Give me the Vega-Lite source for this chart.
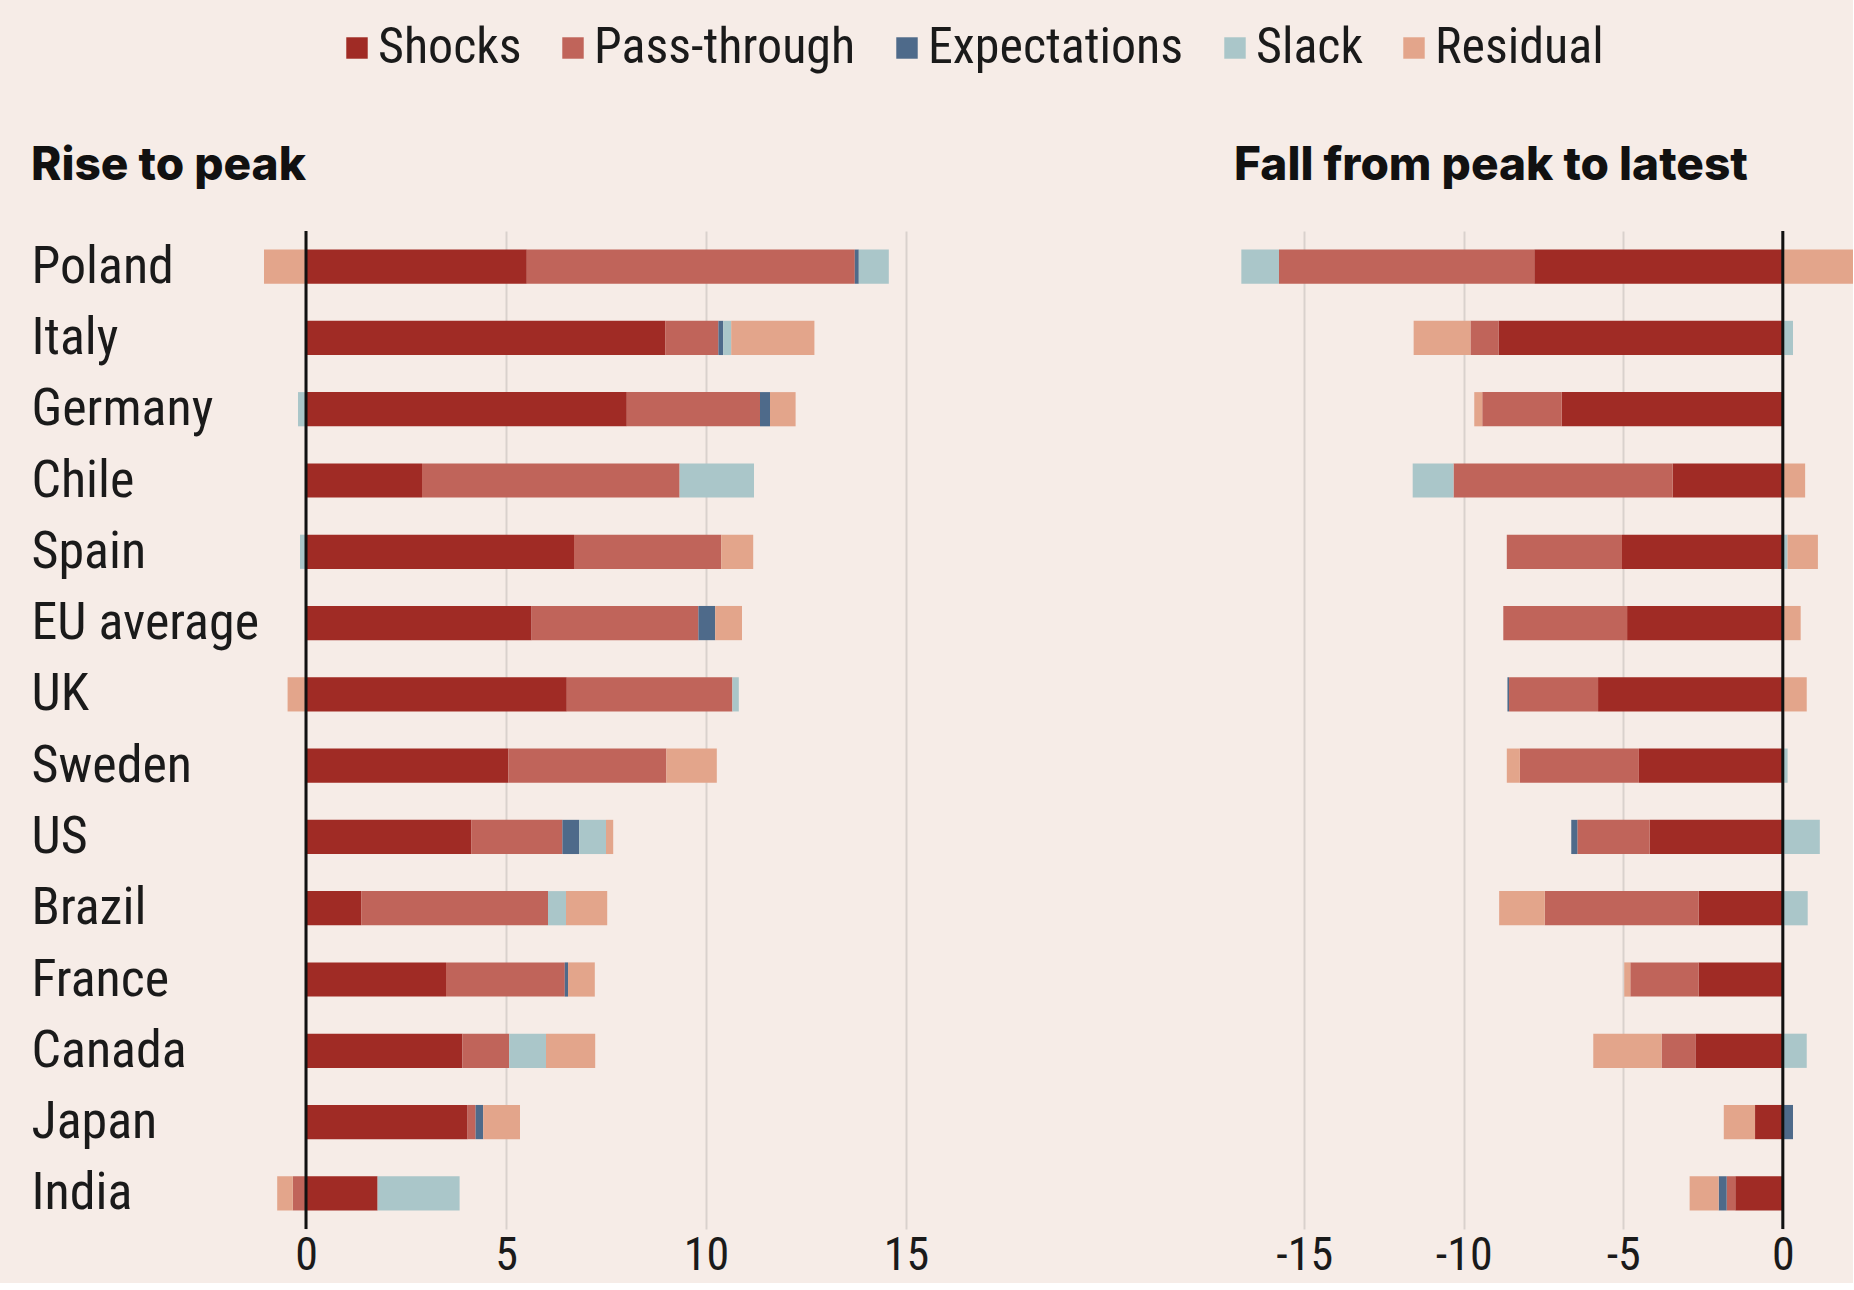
{
  "$schema": "https://vega.github.io/schema/vega-lite/v6.json",
  "background": "#F6ECE7",
  "padding": {"left": 31, "top": 23, "right": 0, "bottom": 5},
  "autosize": {"type": "pad"},
  "bounds": "flush",
  "spacing": 308,
  "config": {
    "view": {"stroke": null},
    "font": "Roboto Condensed, DejaVu Sans Condensed, sans-serif",
    "axisX": {
      "grid": true, "gridColor": "#D9D1CD", "gridWidth": 2,
      "domain": false, "ticks": false, "tickSize": 0,
      "labelFontSize": 46, "labelColor": "#1a1a1a", "labelPadding": 4,
      "labelFont": "Roboto Condensed, DejaVu Sans Condensed, sans-serif",
      "title": null
    },
    "axisY": {
      "title": null, "domain": false, "ticks": false, "tickSize": 0, "grid": false,
      "labelAlign": "left", "labelPadding": 215, "labelFontSize": 52, "labelLimit": 400,
      "labelColor": "#1a1a1a",
      "labelFont": "Roboto Condensed, DejaVu Sans Condensed, sans-serif"
    }
  },
  "datasets": {
    "rise": [
      {"country": "Poland", "component": "Shocks", "value": 5.52},
      {"country": "Poland", "component": "Pass-through", "value": 8.2},
      {"country": "Poland", "component": "Expectations", "value": 0.1},
      {"country": "Poland", "component": "Slack", "value": 0.75},
      {"country": "Poland", "component": "Residual", "value": -1.05},
      {"country": "Italy", "component": "Shocks", "value": 8.98},
      {"country": "Italy", "component": "Pass-through", "value": 1.33},
      {"country": "Italy", "component": "Expectations", "value": 0.12},
      {"country": "Italy", "component": "Slack", "value": 0.2},
      {"country": "Italy", "component": "Residual", "value": 2.08},
      {"country": "Germany", "component": "Shocks", "value": 8.02},
      {"country": "Germany", "component": "Pass-through", "value": 3.33},
      {"country": "Germany", "component": "Expectations", "value": 0.25},
      {"country": "Germany", "component": "Slack", "value": -0.2},
      {"country": "Germany", "component": "Residual", "value": 0.64},
      {"country": "Chile", "component": "Shocks", "value": 2.9},
      {"country": "Chile", "component": "Pass-through", "value": 6.44},
      {"country": "Chile", "component": "Slack", "value": 1.86},
      {"country": "Spain", "component": "Shocks", "value": 6.7},
      {"country": "Spain", "component": "Pass-through", "value": 3.68},
      {"country": "Spain", "component": "Slack", "value": -0.15},
      {"country": "Spain", "component": "Residual", "value": 0.8},
      {"country": "EU average", "component": "Shocks", "value": 5.64},
      {"country": "EU average", "component": "Pass-through", "value": 4.17},
      {"country": "EU average", "component": "Expectations", "value": 0.42},
      {"country": "EU average", "component": "Residual", "value": 0.67},
      {"country": "UK", "component": "Shocks", "value": 6.52},
      {"country": "UK", "component": "Pass-through", "value": 4.14},
      {"country": "UK", "component": "Slack", "value": 0.16},
      {"country": "UK", "component": "Residual", "value": -0.46},
      {"country": "Sweden", "component": "Shocks", "value": 5.06},
      {"country": "Sweden", "component": "Pass-through", "value": 3.95},
      {"country": "Sweden", "component": "Residual", "value": 1.26},
      {"country": "US", "component": "Shocks", "value": 4.13},
      {"country": "US", "component": "Pass-through", "value": 2.28},
      {"country": "US", "component": "Expectations", "value": 0.42},
      {"country": "US", "component": "Slack", "value": 0.67},
      {"country": "US", "component": "Residual", "value": 0.18},
      {"country": "Brazil", "component": "Shocks", "value": 1.38},
      {"country": "Brazil", "component": "Pass-through", "value": 4.67},
      {"country": "Brazil", "component": "Slack", "value": 0.45},
      {"country": "Brazil", "component": "Residual", "value": 1.03},
      {"country": "France", "component": "Shocks", "value": 3.5},
      {"country": "France", "component": "Pass-through", "value": 2.97},
      {"country": "France", "component": "Expectations", "value": 0.08},
      {"country": "France", "component": "Residual", "value": 0.67},
      {"country": "Canada", "component": "Shocks", "value": 3.91},
      {"country": "Canada", "component": "Pass-through", "value": 1.17},
      {"country": "Canada", "component": "Slack", "value": 0.92},
      {"country": "Canada", "component": "Residual", "value": 1.23},
      {"country": "Japan", "component": "Shocks", "value": 4.04},
      {"country": "Japan", "component": "Pass-through", "value": 0.2},
      {"country": "Japan", "component": "Expectations", "value": 0.19},
      {"country": "Japan", "component": "Residual", "value": 0.92},
      {"country": "India", "component": "Shocks", "value": 1.79},
      {"country": "India", "component": "Pass-through", "value": -0.33},
      {"country": "India", "component": "Slack", "value": 2.05},
      {"country": "India", "component": "Residual", "value": -0.39}
    ],
    "fall": [
      {"country": "Poland", "component": "Shocks", "value": -7.79},
      {"country": "Poland", "component": "Pass-through", "value": -8.0},
      {"country": "Poland", "component": "Slack", "value": -1.18},
      {"country": "Poland", "component": "Residual", "value": 2.5},
      {"country": "Italy", "component": "Shocks", "value": -8.91},
      {"country": "Italy", "component": "Pass-through", "value": -0.88},
      {"country": "Italy", "component": "Slack", "value": 0.32},
      {"country": "Italy", "component": "Residual", "value": -1.78},
      {"country": "Germany", "component": "Shocks", "value": -6.93},
      {"country": "Germany", "component": "Pass-through", "value": -2.49},
      {"country": "Germany", "component": "Residual", "value": -0.25},
      {"country": "Chile", "component": "Shocks", "value": -3.45},
      {"country": "Chile", "component": "Pass-through", "value": -6.87},
      {"country": "Chile", "component": "Slack", "value": -1.28},
      {"country": "Chile", "component": "Residual", "value": 0.7},
      {"country": "Spain", "component": "Shocks", "value": -5.04},
      {"country": "Spain", "component": "Pass-through", "value": -3.61},
      {"country": "Spain", "component": "Slack", "value": 0.15},
      {"country": "Spain", "component": "Residual", "value": 0.95},
      {"country": "EU average", "component": "Shocks", "value": -4.88},
      {"country": "EU average", "component": "Pass-through", "value": -3.88},
      {"country": "EU average", "component": "Residual", "value": 0.56},
      {"country": "UK", "component": "Shocks", "value": -5.79},
      {"country": "UK", "component": "Pass-through", "value": -2.79},
      {"country": "UK", "component": "Expectations", "value": -0.05},
      {"country": "UK", "component": "Residual", "value": 0.75},
      {"country": "Sweden", "component": "Shocks", "value": -4.51},
      {"country": "Sweden", "component": "Pass-through", "value": -3.73},
      {"country": "Sweden", "component": "Slack", "value": 0.15},
      {"country": "Sweden", "component": "Residual", "value": -0.41},
      {"country": "US", "component": "Shocks", "value": -4.17},
      {"country": "US", "component": "Pass-through", "value": -2.27},
      {"country": "US", "component": "Expectations", "value": -0.19},
      {"country": "US", "component": "Slack", "value": 1.16},
      {"country": "Brazil", "component": "Shocks", "value": -2.64},
      {"country": "Brazil", "component": "Pass-through", "value": -4.82},
      {"country": "Brazil", "component": "Slack", "value": 0.78},
      {"country": "Brazil", "component": "Residual", "value": -1.43},
      {"country": "France", "component": "Shocks", "value": -2.64},
      {"country": "France", "component": "Pass-through", "value": -2.14},
      {"country": "France", "component": "Residual", "value": -0.19},
      {"country": "Canada", "component": "Shocks", "value": -2.74},
      {"country": "Canada", "component": "Pass-through", "value": -1.06},
      {"country": "Canada", "component": "Slack", "value": 0.75},
      {"country": "Canada", "component": "Residual", "value": -2.14},
      {"country": "Japan", "component": "Shocks", "value": -0.87},
      {"country": "Japan", "component": "Expectations", "value": 0.32},
      {"country": "Japan", "component": "Residual", "value": -0.98},
      {"country": "India", "component": "Shocks", "value": -1.49},
      {"country": "India", "component": "Pass-through", "value": -0.27},
      {"country": "India", "component": "Expectations", "value": -0.25},
      {"country": "India", "component": "Residual", "value": -0.91}
    ]
  },
  "hconcat": [
    {
      "width": 680,
      "height": 998,
      "title": {"text": "Rise to peak", "anchor": "start", "frame": "bounds", "font": "Inter", "fontWeight": 800, "fontSize": 46, "color": "#111111", "offset": 4, "baseline": "alphabetic"},
      "layer": [
        {
          "data": {"name": "rise"},
          "transform": [{"calculate": "indexof(['Shocks','Pass-through','Expectations','Slack','Residual'], datum.component)", "as": "k"}],
          "mark": {"type": "bar", "clip": true},
          "encoding": {
            "y": {"field": "country", "type": "nominal",
              "sort": ["Poland","Italy","Germany","Chile","Spain","EU average","UK","Sweden","US","Brazil","France","Canada","Japan","India"],
              "scale": {"paddingInner": 0.52, "paddingOuter": 0.26}},
            "x": {"field": "value", "type": "quantitative", "stack": "zero",
              "scale": {"domain": [-1.5, 15.5], "nice": false, "zero": false},
              "axis": {"values": [0, 5, 10, 15]}},
            "color": {"field": "component", "type": "nominal",
              "scale": {"domain": ["Shocks","Pass-through","Expectations","Slack","Residual"],
                        "range": ["#A02B25","#C0645A","#4E6A8A","#AAC6C9","#E3A58B"]},
              "legend": {"title": null, "orient": "none", "legendX": 86, "legendY": -208, "direction": "horizontal", "columns": 5,
                "symbolType": "square", "symbolSize": 460, "symbolStrokeWidth": 0, "symbolOpacity": 1,
                "labelFont": "Roboto Condensed, DejaVu Sans Condensed, sans-serif",
                "labelFontSize": 50, "labelColor": "#1a1a1a", "labelOffset": -4, "columnPadding": 26, "labelLimit": 400}},
            "order": {"field": "k", "type": "quantitative"}
          }
        },
        {
          "data": {"values": [{}]},
          "mark": {"type": "rule", "color": "#111111", "strokeWidth": 3},
          "encoding": {"x": {"datum": 0}}
        }
      ]
    },
    {
      "width": 619,
      "height": 998,
      "title": {"text": "Fall from peak to latest", "anchor": "start", "frame": "group", "font": "Inter", "fontWeight": 800, "fontSize": 46, "color": "#111111", "offset": 4, "baseline": "alphabetic"},
      "layer": [
        {
          "data": {"name": "fall"},
          "transform": [{"calculate": "indexof(['Shocks','Pass-through','Expectations','Slack','Residual'], datum.component)", "as": "k"}],
          "mark": {"type": "bar", "clip": true},
          "encoding": {
            "y": {"field": "country", "type": "nominal",
              "sort": ["Poland","Italy","Germany","Chile","Spain","EU average","UK","Sweden","US","Brazil","France","Canada","Japan","India"],
              "scale": {"paddingInner": 0.52, "paddingOuter": 0.26}, "axis": null},
            "x": {"field": "value", "type": "quantitative", "stack": "zero",
              "scale": {"domain": [-17.2, 2.2], "nice": false, "zero": false},
              "axis": {"values": [-15, -10, -5, 0], "labelExpr": "datum.value < 0 ? '-' + abs(datum.value) : '' + datum.value"}},
            "color": {"field": "component", "type": "nominal",
              "scale": {"domain": ["Shocks","Pass-through","Expectations","Slack","Residual"],
                        "range": ["#A02B25","#C0645A","#4E6A8A","#AAC6C9","#E3A58B"]},
              "legend": {"title": null, "orient": "none", "legendX": 86, "legendY": -208, "direction": "horizontal", "columns": 5,
                "symbolType": "square", "symbolSize": 460, "symbolStrokeWidth": 0, "symbolOpacity": 1,
                "labelFont": "Roboto Condensed, DejaVu Sans Condensed, sans-serif",
                "labelFontSize": 50, "labelColor": "#1a1a1a", "labelOffset": -4, "columnPadding": 26, "labelLimit": 400}},
            "order": {"field": "k", "type": "quantitative"}
          }
        },
        {
          "data": {"values": [{}]},
          "mark": {"type": "rule", "color": "#111111", "strokeWidth": 3},
          "encoding": {"x": {"datum": 0}}
        }
      ]
    }
  ]
}
